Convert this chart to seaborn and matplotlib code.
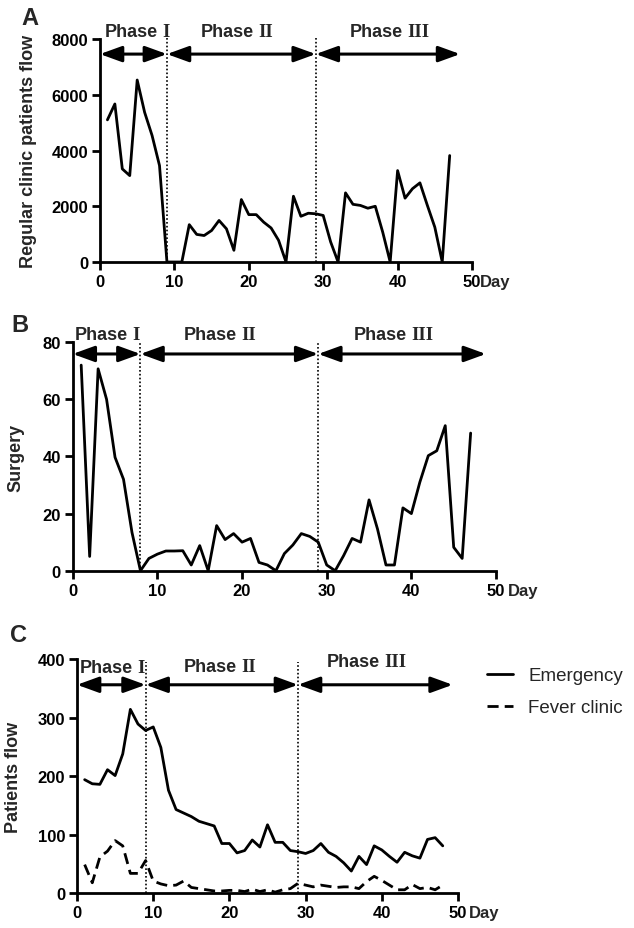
import matplotlib
matplotlib.use("Agg")
import matplotlib.pyplot as plt
import seaborn as sns
import numpy as np
import pandas as pd

# ---------------- data ----------------
days_a = list(range(1, 48))
clinic_flow = [5100, 5670, 3340, 3100, 6530, 5370, 4540, 3460, 0, 0,
               0, 1340, 990, 950, 1130, 1490, 1190, 420, 2240, 1700,
               1700, 1430, 1220, 780, 0, 2360, 1640, 1750, 1730, 1670,
               720, 0, 2480, 2070, 2030, 1930, 2000, 1070, 0, 3280,
               2290, 2630, 2840, 2030, 1250, 0, 3820]

days_b = list(range(1, 48))
surgery = [72, 5, 70.7, 60, 39.7, 32, 13.4, 0, 4.3, 5.8,
           6.9, 6.9, 7, 2, 8.8, 0, 15.8, 10.9, 13, 10,
           11.3, 2.9, 2, 0, 6, 9, 13, 12, 10, 2,
           0, 5.3, 11.3, 10, 24.8, 14.6, 2, 2, 22, 20,
           31, 40.3, 42, 50.8, 8.2, 4.3, 48.2]

days_c = list(range(1, 49))
emergency = [194, 187, 186, 211, 201, 238, 314, 289, 278, 284,
             249, 176, 143, 137, 131, 123, 119, 115, 85, 85,
             69, 73, 91, 79, 117, 87, 87, 73, 71, 68,
             73, 85, 70, 63, 52, 38, 63, 49, 81, 74,
             63, 53, 70, 64, 60, 92, 95, 81]
fever = [49, 18, 62, 72, 90, 81, 34, 34, 56, 21,
         16, 13, 14, 21, 10, 8, 6, 4, 4, 5,
         5, 3, 7, 3, 6, 2, 6, 8, 17, 14,
         11, 14, 12, 10, 11, 11, 8, 20, 29, 22,
         14, 6, 6, 15, 8, 10, 6, 14]

phase_names = ["Phase", "Phase", "Phase"]
phase_nums = ["I", "II", "III"]

# ---------------- style ----------------
sns.set_style("ticks")
plt.rcParams['font.family'] = ['Liberation Sans', 'DejaVu Sans']
plt.rcParams['font.weight'] = 'bold'

fig = plt.figure(figsize=(6.34, 9.29), dpi=100)

LW = 2.0
TICKFS = 12
PHASEFS = 13


def style_axis(ax, yticks, ylim, ylabel, label_x, day_x):
    ax.set_xlim(0, 50)
    ax.set_ylim(*ylim)
    ax.set_xticks([0, 10, 20, 30, 40, 50])
    ax.set_yticks(yticks)
    for s in ['top', 'right']:
        ax.spines[s].set_visible(False)
    for s in ['left', 'bottom']:
        ax.spines[s].set_linewidth(LW)
        ax.spines[s].set_color('black')
    ax.tick_params(axis='both', direction='out', length=5.5, width=LW,
                   labelsize=TICKFS, pad=3, colors='black')
    for lab in ax.get_xticklabels() + ax.get_yticklabels():
        lab.set_fontweight('bold')
    ax.set_xlabel('')
    ax.set_ylabel(ylabel, fontsize=13, fontweight='bold')
    ax.yaxis.set_label_coords(label_x, 0.5)
    ax.annotate('Day', xy=(day_x, 0), xycoords=('data', 'axes fraction'),
                xytext=(0, -(5.5 + 3)), textcoords='offset points',
                ha='left', va='top', fontsize=TICKFS, fontweight='bold',
                annotation_clip=False)


def phases(ax, bounds, arrow_y, dot_top, label_xs, label_ys):
    # bounds: [x0, b1, b2, xend]
    for b in bounds[1:3]:
        ax.vlines(b, 0, dot_top, colors='black', linestyles=(0, (1, 1.3)),
                  lw=1.2, clip_on=False, zorder=3)
    for i in range(3):
        ax.annotate('', xy=(bounds[i + 1], arrow_y), xytext=(bounds[i], arrow_y),
                    arrowprops=dict(arrowstyle='<|-|>,head_length=0.55,head_width=0.2',
                                    color='black', lw=2.2, mutation_scale=24,
                                    shrinkA=0, shrinkB=0),
                    annotation_clip=False)
    for i in range(3):
        ax.annotate(phase_names[i], xy=(label_xs[i], label_ys[i]),
                    xytext=(-3, 0), textcoords='offset points',
                    ha='right', va='center', fontsize=PHASEFS, fontweight='bold',
                    annotation_clip=False)
        ax.text(label_xs[i], label_ys[i], phase_nums[i], ha='left', va='center',
                fontsize=PHASEFS + 0.5, fontweight='bold', family='Liberation Serif',
                clip_on=False)


# ---------------- panel A ----------------
axA = fig.add_axes([0.1577, 0.7169, 0.5868, 0.2400])
sns.lineplot(x=days_a, y=clinic_flow, ax=axA, color='black', lw=LW)
style_axis(axA, [0, 2000, 4000, 6000, 8000], (0, 8000),
           'Regular clinic patients flow', -0.169, 51.1)
phases(axA, [0, 9, 29, 48.4], 7460, 8060, [8.4, 21.3, 41.3], [8262, 8262, 8262])

# ---------------- panel B ----------------
axB = fig.add_axes([0.1147, 0.3846, 0.6677, 0.2459])
sns.lineplot(x=days_b, y=surgery, ax=axB, color='black', lw=LW)
style_axis(axB, [0, 20, 40, 60, 80], (0, 80), 'Surgery', -0.115, 51.4)
phases(axB, [0, 8, 29, 48.8], 75.9, 80.5, [7.06, 19.9, 40.0], [82.6, 82.6, 82.6])

# ---------------- panel C ----------------
axC = fig.add_axes([0.1215, 0.03735, 0.6009, 0.2522])
sns.lineplot(x=days_c, y=emergency, ax=axC, color='black', lw=LW, label='Emergency')
sns.lineplot(x=days_c, y=fever, ax=axC, color='black', lw=LW, linestyle=(0, (4, 2.2)),
             label='Fever clinic')
style_axis(axC, [0, 100, 200, 300, 400], (0, 400), 'Patients flow', -0.144, 51.4)
phases(axC, [0, 9, 29, 49.3], 356, 395, [7.9, 21.5, 40.3], [385, 388, 395])

leg = axC.legend(loc='upper left', bbox_to_anchor=(0.768, 0.2809),
                 bbox_transform=fig.transFigure, frameon=False,
                 prop={'family': 'Liberation Sans', 'weight': 'normal', 'size': 13.5},
                 handlelength=1.4, handletextpad=0.8, labelspacing=0.8,
                 borderpad=0, borderaxespad=0)
for h in leg.get_lines():
    h.set_linewidth(LW)

# ---------------- panel letters ----------------
fig.text(0.0465, 0.9806, 'A', fontsize=17, fontweight='bold', ha='center', va='center')
fig.text(0.0315, 0.650, 'B', fontsize=17, fontweight='bold', ha='center', va='center')
fig.text(0.0292, 0.3159, 'C', fontsize=17, fontweight='bold', ha='center', va='center')

fig.savefig('out.png', dpi=100)
